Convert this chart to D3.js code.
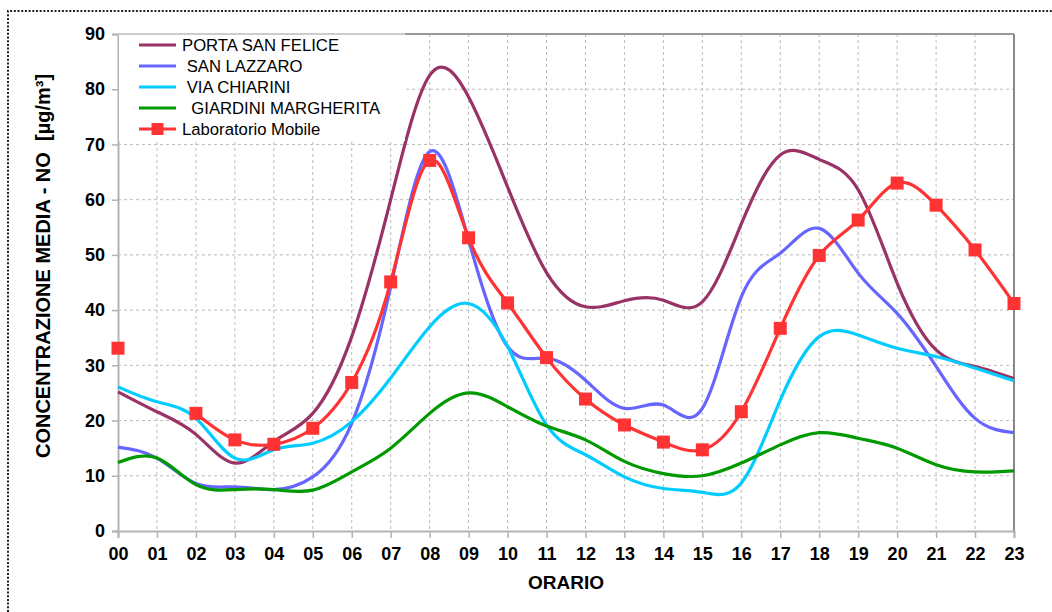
<!DOCTYPE html>
<html>
<head>
<meta charset="utf-8">
<script src="https://cdn.jsdelivr.net/npm/d3@7"></script>
<style>
body{margin:0;background:#fff}
text{font-family:"Liberation Sans",Arial,sans-serif}
</style>
</head>
<body>
<div id="graph"></div>
<script>
"use strict"
var hours=["00","01","02","03","04","05","06","07","08","09","10","11","12","13","14","15","16","17","18","19","20","21","22","23"]
var yTicks=[0,10,20,30,40,50,60,70,80,90]
var seriesNames=["PORTA SAN FELICE"," SAN LAZZARO"," VIA CHIARINI","  GIARDINI MARGHERITA","Laboratorio Mobile"]
var seriesColors=["#993366","#6666ff","#00ccff","#009900","#ff3333"]
var portaSanFelice=[25.2,21.6,17.5,12.3,16.2,21.3,35.2,60.0,82.5,78.6,62.3,46.8,40.6,41.7,41.8,41.5,55.6,68.1,67.3,61.8,44.9,32.8,29.8,27.6]
var sanLazzaro=[15.2,13.2,8.6,8.0,7.5,9.8,19.5,44.2,68.7,52.7,33.4,31.3,27.3,22.2,22.8,22.2,42.4,50.3,54.8,46.7,39.4,29.8,20.4,17.8]
var viaChiarini=[26.1,23.4,20.4,13.2,14.7,15.9,19.8,27.7,37.0,41.2,33.4,19.2,13.8,9.8,7.7,7.0,8.7,23.7,35.2,35.5,33.1,31.6,29.5,27.2]
var giardiniMargherita=[12.4,13.2,8.4,7.5,7.5,7.4,10.7,15.0,21.3,25.0,22.5,19.0,16.5,12.6,10.4,10.0,12.3,15.6,17.8,16.8,15.0,12.0,10.7,10.9]
var laboratorioMobile=[33.1,null,21.3,16.5,15.7,18.6,26.9,45.1,67.1,53.1,41.3,31.4,23.9,19.2,16.1,14.7,21.6,36.7,49.9,56.3,63.0,59.0,50.9,41.2]

function init(){
  var svg=d3.select('#graph').append('svg').attr('width',1052).attr('height',612)
  var x=d3.scaleLinear().domain([0,23]).range([118,1014])
  var y=d3.scaleLinear().domain([0,90]).range([531,34])

  // outer dotted frame
  svg.append('path').attr('d','M8,612V11H1052').attr('fill','none').attr('stroke','#222').attr('stroke-width',2).attr('stroke-dasharray','2,1.7')

  // grid
  var grid=svg.append('g')
  grid.selectAll('line.v').data(d3.range(1,23)).enter().append('line')
    .attr('x1',d=>x(d)).attr('x2',d=>x(d)).attr('y1',y(90)).attr('y2',y(0))
    .attr('stroke','#bbb').attr('stroke-dasharray','3,3')
  grid.selectAll('line.h').data(yTicks.slice(1)).enter().append('line')
    .attr('x1',x(0)).attr('x2',x(23)).attr('y1',d=>y(d)).attr('y2',d=>y(d))
    .attr('stroke','#bbb').attr('stroke-dasharray','3,3')

  // frame top/right
  svg.append('line').attr('x1',x(0)).attr('x2',x(23)).attr('y1',y(90)).attr('y2',y(90)).attr('stroke','#999').attr('stroke-width',2)
  svg.append('line').attr('x1',x(23)).attr('x2',x(23)).attr('y1',y(90)).attr('y2',y(0)).attr('stroke','#888').attr('stroke-width',2)

  // axes
  var xAxis=svg.append('g').attr('transform','translate(0,'+y(0)+')')
    .call(d3.axisBottom(x).tickValues(d3.range(24)).tickFormat(d=>hours[d]).tickSize(7).tickPadding(9))
  var yAxis=svg.append('g').attr('transform','translate('+x(0)+',0)')
    .call(d3.axisLeft(y).tickValues(yTicks).tickSize(6).tickPadding(7))
  ;[xAxis,yAxis].forEach(function(a){
    a.select('.domain').attr('stroke','#b3b3b3').attr('stroke-width',2)
    a.selectAll('.tick line').attr('stroke','#b3b3b3').attr('stroke-width',1.5)
    a.selectAll('.tick text').attr('fill','#000').attr('font-size',18).attr('font-weight','bold').attr('font-family','"Liberation Sans",Arial,sans-serif')
  })

  // series
  var all=[portaSanFelice,sanLazzaro,viaChiarini,giardiniMargherita,laboratorioMobile]
  var line=d3.line().defined(d=>d!=null).x((d,i)=>x(i)).y(d=>y(d)).curve(d3.curveNatural)
  all.forEach(function(s,k){
    if(k==4){
      // red line only from 02 on (01 missing), 00 is a lone marker
      var pts=s.map((d,i)=>[i,d]).filter(p=>p[1]!=null&&p[0]>=2)
      svg.append('path').attr('d',d3.line().x(p=>x(p[0])).y(p=>y(p[1])).curve(d3.curveNatural)(pts))
        .attr('fill','none').attr('stroke',seriesColors[k]).attr('stroke-width',3.2)
      svg.selectAll('rect.mk').data(s.map((d,i)=>[i,d]).filter(p=>p[1]!=null)).enter().append('rect')
        .attr('x',p=>x(p[0])-6.5).attr('y',p=>y(p[1])-6.5).attr('width',13).attr('height',13).attr('fill',seriesColors[k])
    }else{
      svg.append('path').attr('d',line(s)).attr('fill','none').attr('stroke',seriesColors[k]).attr('stroke-width',3.2)
    }
  })

  // legend
  svg.append('rect').attr('x',119).attr('y',35).attr('width',286).attr('height',106).attr('fill','#fff')
  svg.append('line').attr('x1',118).attr('x2',405).attr('y1',34).attr('y2',34).attr('stroke','#ccc').attr('stroke-width',2)
  var leg=svg.append('g')
  seriesNames.forEach(function(n,k){
    var ly=45+k*21
    leg.append('line').attr('x1',139).attr('x2',176).attr('y1',ly).attr('y2',ly).attr('stroke',seriesColors[k]).attr('stroke-width',3.2)
    if(k==4)
      leg.append('rect').attr('x',151.5).attr('y',ly-6).attr('width',12).attr('height',12).attr('fill',seriesColors[k])
    leg.append('text').attr('x',182).attr('y',ly+6).attr('font-size',16.7).style('white-space','pre').text(n)
  })

  // titles
  svg.append('text').attr('x',x(11.5)).attr('y',589).attr('text-anchor','middle').attr('font-size',19).attr('font-weight','bold').text('ORARIO')
  svg.append('text').attr('transform','translate(50,266) rotate(-90)').attr('text-anchor','middle').attr('font-size',20).attr('font-weight','bold')
    .style('white-space','pre').text('CONCENTRAZIONE MEDIA - NO  [µg/m³]')
}
init()
</script>
</body>
</html>
